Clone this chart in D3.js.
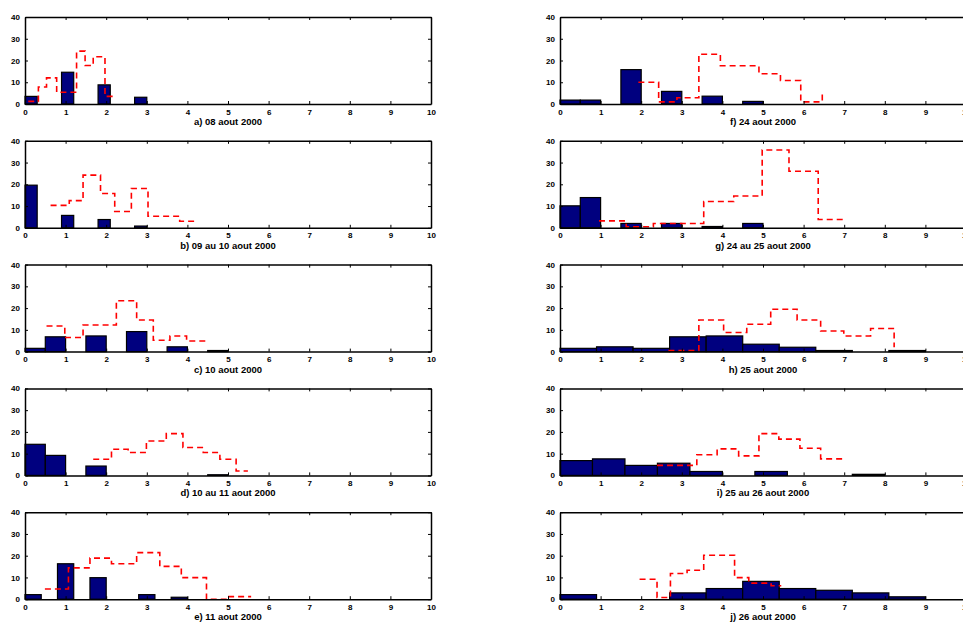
<!DOCTYPE html>
<html>
<head>
<meta charset="utf-8">
<script src="https://cdn.jsdelivr.net/npm/d3@7"></script>
<style>
  body { margin: 0; background: #fff; }
  svg { display: block; font-family: "Liberation Sans", Arial, sans-serif; }
</style>
</head>
<body>
<script>
// panels a..e (left column), f..j (right column)
var panelLabels = [
  "a) 08 aout 2000", "b) 09 au 10 aout 2000", "c) 10 aout 2000",
  "d) 10 au 11 aout 2000", "e) 11 aout 2000",
  "f) 24 aout 2000", "g) 24 au 25 aout 2000", "h) 25 aout 2000",
  "i) 25 au 26 aout 2000", "j) 26 aout 2000"
];

// histogram bins (blue): bin width, bin starts, counts
var binWidth = [0.3, 0.3, 0.5, 0.5, 0.4, 0.5, 0.5, 0.9, 0.8, 0.9];
var binStart = [
  [0, 0.9, 1.8, 2.7],
  [0, 0.9, 1.8, 2.7],
  [0, 0.5, 1.5, 2.5, 3.5, 4.5],
  [0, 0.5, 1.5, 4.5],
  [0, 0.8, 1.6, 2.8, 3.6],
  [0, 0.5, 1.5, 2.5, 3.5, 4.5],
  [0, 0.5, 1.5, 2.5, 3.5, 4.5],
  [0, 0.9, 1.8, 2.7, 3.6, 4.5, 5.4, 6.3, 8.1],
  [0, 0.8, 1.6, 2.4, 3.2, 4.8, 7.2],
  [0, 2.7, 3.6, 4.5, 5.4, 6.3, 7.2, 8.1]
];
var binCount = [
  [3.5, 14.6, 8.8, 3.1],
  [19.6, 5.7, 3.8, 0.8],
  [1.5, 6.8, 7.2, 9.2, 2.2, 0.5],
  [14.3, 9.2, 4.3, 0.3],
  [2.1, 16.3, 9.9, 2.1, 0.9],
  [1.8, 1.8, 15.8, 5.8, 3.6, 1.2],
  [10.1, 13.9, 2.0, 2.0, 0.6, 2.0],
  [1.5, 2.2, 1.5, 6.8, 7.2, 3.4, 2.0, 0.5, 0.5],
  [6.8, 7.6, 4.6, 5.6, 1.8, 1.8, 0.5],
  [2.1, 2.9, 4.9, 8.2, 4.9, 4.1, 2.9, 1.1]
];

// red dashed step curves: step x positions and levels
var stepX = [
  [0.08, 0.33, 0.53, 0.78, 1.27, 1.48, 1.68, 1.97, 2.17],
  [0.63, 1.09, 1.43, 1.86, 2.21, 2.62, 3.03, 3.81, 4.22],
  [0.53, 0.98, 1.43, 2.25, 2.75, 3.16, 3.57, 3.98, 4.47],
  [1.68, 2.13, 2.54, 2.99, 3.48, 3.89, 4.39, 4.8, 5.2, 5.49],
  [0.49, 1.07, 1.6, 2.13, 2.75, 3.32, 3.85, 4.47, 5.0, 5.57],
  [1.93, 2.43, 2.88, 3.42, 3.95, 4.9, 5.43, 5.93, 6.46],
  [0.96, 1.63, 2.3, 3.54, 4.28, 4.98, 5.64, 6.36, 7.04],
  [2.67, 3.42, 4.03, 4.6, 5.19, 5.84, 6.42, 6.99, 7.65, 8.23],
  [2.39, 3.37, 3.87, 4.4, 4.9, 5.39, 5.91, 6.42, 6.95],
  [1.96, 2.39, 2.72, 3.13, 3.54, 4.3, 4.65, 5.2, 5.45]
];
var stepY = [
  [1.2, 7.8, 12, 5.4, 24.3, 17.7, 21.7, 3.5, 3.5],
  [10.3, 12.5, 24.2, 15.8, 7.5, 18.1, 5.3, 3.0, 3.0],
  [11.8, 6.5, 12.2, 23.4, 14.5, 5.2, 7.2, 4.9, 4.9],
  [7.4, 12, 10.5, 15.8, 19.2, 12.8, 10.5, 7.4, 2, 2],
  [4.7, 14.4, 18.9, 16.3, 21.4, 15.1, 9.9, 0, 1.2, 1.2],
  [10, 1, 2.9, 22.9, 17.6, 13.9, 10.8, 1, 4.4],
  [3.2, 0.5, 2.0, 12.1, 14.6, 35.8, 26, 3.8, 3.8],
  [0.5, 14.5, 8.8, 12.6, 19.5, 14.5, 9.5, 7.2, 10.6, 2],
  [4.6, 9.5, 12.2, 9, 19.2, 16.7, 12.5, 7.6, 7.6],
  [9.2, 0.8, 11.8, 13.3, 20.2, 9.9, 7.4, 6.2, 6.2]
];

var xTicks = d3.range(0, 11);
var yTicks = [0, 10, 20, 30, 40];

var W = 963, H = 623;
var colLeft = [25, 560], plotW = 406, plotH = 87;
var rowTop = 17, rowStep = 123.8;

var svg = d3.select("body").append("svg")
  .attr("width", W).attr("height", H);

panelLabels.forEach(function(label, i) {
  var col = Math.floor(i / 5), row = i % 5;
  var g = svg.append("g")
    .attr("transform", "translate(" + colLeft[col] + "," + (rowTop + row * rowStep) + ")");

  var x = d3.scaleLinear().domain([0, 10]).range([0, plotW]);
  var y = d3.scaleLinear().domain([0, 40]).range([plotH, 0]);

  // bars
  g.selectAll("rect.bar").data(binStart[i].map(function(s, k) {
      return { s: s, v: binCount[i][k] };
    }))
    .enter().append("rect")
    .attr("class", "bar")
    .attr("x", function(d) { return x(d.s); })
    .attr("width", function(d) { return x(d.s + binWidth[i]) - x(d.s); })
    .attr("y", function(d) { return y(d.v); })
    .attr("height", function(d) { return y(0) - y(d.v); })
    .style("fill", "#00007f")
    .style("stroke", "#000")
    .style("stroke-width", 1.2);

  // red dashed step line
  var line = d3.line()
    .x(function(d) { return x(d[0]); })
    .y(function(d) { return y(d[1]); })
    .curve(d3.curveStepAfter);
  g.append("path")
    .datum(stepX[i].map(function(v, k) { return [v, stepY[i][k]]; }))
    .attr("d", line)
    .style("fill", "none")
    .style("stroke", "#ff0000")
    .style("stroke-width", 1.6)
    .style("stroke-dasharray", "6,4");

  // axes (MATLAB style: box with inward ticks)
  var axB = g.append("g").attr("transform", "translate(0," + plotH + ")")
    .call(d3.axisBottom(x).tickValues(xTicks).tickSizeInner(-3).tickSizeOuter(0).tickPadding(5));
  var axT = g.append("g")
    .call(d3.axisTop(x).tickValues(xTicks).tickSizeInner(-3).tickSizeOuter(0).tickFormat(""));
  var axL = g.append("g")
    .call(d3.axisLeft(y).tickValues(yTicks).tickSizeInner(-3).tickSizeOuter(0).tickPadding(5));
  var axR = g.append("g").attr("transform", "translate(" + plotW + ",0)")
    .call(d3.axisRight(y).tickValues(yTicks).tickSizeInner(-3).tickSizeOuter(0).tickFormat(""));

  [axB, axT, axL, axR].forEach(function(a) {
    a.select(".domain").style("stroke", "#000").style("stroke-width", 1.5);
    a.selectAll(".tick line").style("stroke", "#000").style("stroke-width", 1);
    a.selectAll(".tick text")
      .style("font-size", "8px").style("font-weight", "bold")
      .style("font-family", "'Liberation Sans', Arial, sans-serif")
      .style("fill", "#000");
  });

  g.append("text")
    .attr("x", plotW / 2)
    .attr("y", plotH + 21)
    .attr("text-anchor", "middle")
    .style("font-size", "9.5px")
    .style("font-weight", "bold")
    .text(label);
});
</script>
</body>
</html>
